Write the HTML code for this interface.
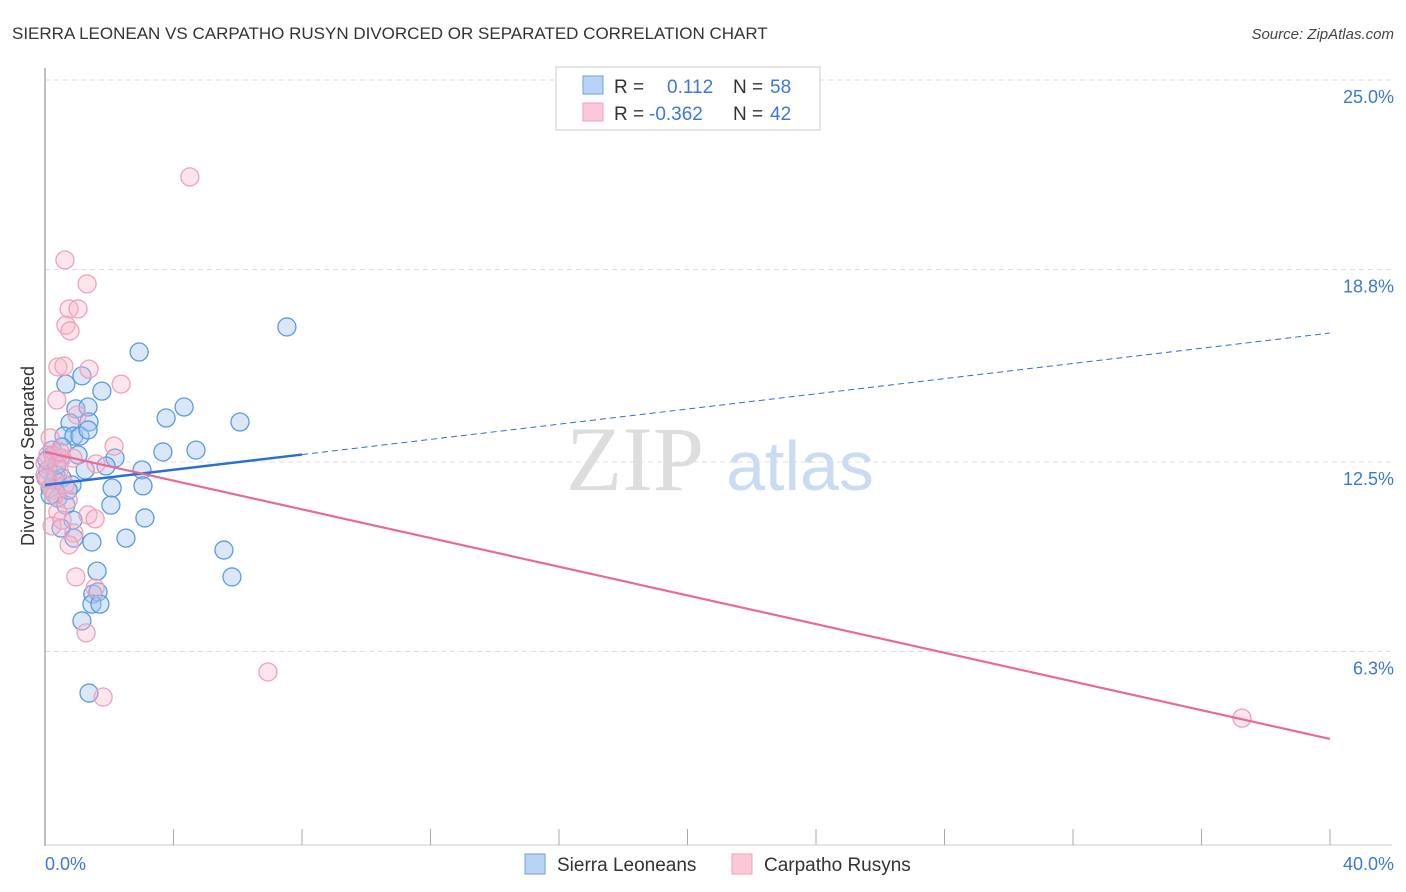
<!DOCTYPE html>
<html><head><meta charset="utf-8"><style>
body{margin:0;background:#fff;font-family:"Liberation Sans",sans-serif;}
svg{display:block}
</style></head><body>
<svg id="chart" width="1406" height="892" xmlns="http://www.w3.org/2000/svg" font-family="Liberation Sans, sans-serif">
<text x="12" y="39" font-size="17" fill="#333">SIERRA LEONEAN VS CARPATHO RUSYN DIVORCED OR SEPARATED CORRELATION CHART</text>
<text x="1394" y="39" font-size="15" fill="#444" font-style="italic" text-anchor="end">Source: ZipAtlas.com</text>
<g>
<text x="635" y="490" font-size="92" fill="#ddd" font-family="Liberation Serif, serif" text-anchor="middle">ZIP</text>
<text x="800" y="490" font-size="70" fill="#c9dcf3" text-anchor="middle">atlas</text>
</g>
<g id="grid"></g>
<line x1="45" y1="68" x2="45" y2="846" stroke="#aaa" stroke-width="1.5"/>
<line x1="45" y1="845" x2="1392" y2="845" stroke="#ccc"/>
<text transform="translate(34,456) rotate(-90)" font-size="18" fill="#333" text-anchor="middle">Divorced or Separated</text>
<text x="45" y="870" font-size="18" fill="#3b78d8">0.0%</text>
<text x="1394" y="870" font-size="18" fill="#3b78d8" text-anchor="end">40.0%</text>
<g id="ticks"></g>
<g id="points"></g>
<g id="trends"></g>
<g>
<rect x="556" y="67" width="264" height="63" fill="#fff" stroke="#ccc"/>
<rect x="583" y="76" width="20" height="18" fill="#b9d3f5" stroke="#6aa0e0"/>
<rect x="583" y="103" width="20" height="18" fill="#fac8d6" stroke="#f0a0b8"/>
<text x="614" y="93" font-size="19" fill="#333">R =</text>
<text x="667" y="93" font-size="19" fill="#3b78d8">0.112</text>
<text x="733" y="93" font-size="19" fill="#333">N =</text>
<text x="770" y="93" font-size="19" fill="#3b78d8">58</text>
<text x="614" y="120" font-size="19" fill="#333">R =</text>
<text x="649" y="120" font-size="19" fill="#3b78d8">-0.362</text>
<text x="733" y="120" font-size="19" fill="#333">N =</text>
<text x="770" y="120" font-size="19" fill="#3b78d8">42</text>
</g>
<g>
<rect x="525" y="854" width="20" height="20" fill="#b9d3f5" stroke="#6aa0e0"/>
<text x="557" y="871" font-size="19" fill="#333">Sierra Leoneans</text>
<rect x="732" y="854" width="20" height="20" fill="#fac8d6" stroke="#f0a0b8"/>
<text x="764" y="871" font-size="19" fill="#333">Carpatho Rusyns</text>
</g>
</svg>
<script>
const yTicks=[25.0,18.8,12.5,6.3];
const yTickLabels=["25.0%","18.8%","12.5%","6.3%"];
const xTicks=[0,4,8,12,16,20,24,28,32,36,40];
const blueX=[7.53,2.93,1.15,0.65,1.77,0.96,1.34,4.33,3.77,6.07,0.78,1.37,0.59,0.90,1.09,1.34,4.70,3.67,0.25,0.47,1.03,2.18,1.90,3.02,0.09,0.34,0.53,0.84,0.16,2.09,3.05,0.40,0.65,2.05,3.11,0.87,0.50,0.90,1.46,2.52,5.57,1.62,5.82,1.49,1.65,1.46,1.71,1.15,1.37,0.06,0.31,0.16,0.22,0.72,1.25,0.37,0.03,0.53];
const blueY=[17.05,16.23,15.45,15.18,14.95,14.37,14.43,14.43,14.07,13.94,13.91,13.94,13.48,13.48,13.48,13.68,13.02,12.96,12.86,12.76,12.86,12.76,12.50,12.37,12.37,12.21,12.11,11.88,11.78,11.78,11.85,11.45,11.22,11.22,10.80,10.73,10.47,10.14,10.01,10.14,9.75,9.06,8.87,8.31,8.38,7.98,7.98,7.43,5.07,12.70,12.04,11.55,13.02,11.71,12.37,12.53,12.11,13.12];
const pinkX=[4.51,0.62,1.31,0.75,1.03,0.65,0.78,0.40,0.59,1.37,2.37,0.37,1.00,0.16,2.15,0.28,0.53,0.87,1.59,0.44,0.09,0.22,0.72,0.40,1.34,1.56,0.22,0.90,0.75,0.96,1.56,1.28,1.81,6.94,37.26,0.09,0.47,0.00,0.31,0.62,0.00,0.53];
const pinkY=[21.96,19.24,18.46,17.64,17.64,17.11,16.92,15.74,15.77,15.67,15.18,14.66,14.17,13.42,13.15,12.83,12.76,12.76,12.57,12.37,12.04,11.71,11.39,10.99,10.90,10.77,10.54,10.31,9.92,8.87,8.51,7.04,4.94,5.76,4.25,12.86,12.96,12.60,11.55,11.88,12.21,10.73];
const blueTrend=[11.88,16.85];
const blueSolidEnd=8.0;
const pinkTrend=[12.96,3.57];

const NS="http://www.w3.org/2000/svg";
const xs=v=>45+v*(1285/40);
const ys=v=>84+(25-v)*30.56;
function mk(tag,attrs,parent){const e=document.createElementNS(NS,tag);for(const k in attrs)e.setAttribute(k,attrs[k]);document.getElementById(parent).appendChild(e);return e;}
yTicks.forEach((t,i)=>{
 const l=mk('line',{x1:45,x2:1392,y1:ys(t)-4,y2:ys(t)-4,stroke:'#ddd','stroke-dasharray':'5,4'},'grid');
 
 
 const tx=mk('text',{x:1394,y:ys(t)+19,'font-size':18,fill:'#3b78d8','text-anchor':'end'},'grid');
 tx.textContent=yTickLabels[i];
 
 
});
xTicks.forEach(t=>{
 const l=mk('line',{x1:xs(t),x2:xs(t),y1:829,y2:845,stroke:'#aaa'},'ticks');
 
 
});
blueX.forEach((x,i)=>{
 const c=mk('circle',{cx:xs(x),cy:ys(blueY[i]),r:9,fill:'rgba(160,196,240,0.4)',stroke:'#5b9be0','stroke-width':1.3},'points');
 
 
});
pinkX.forEach((x,i)=>{
 const c=mk('circle',{cx:xs(x),cy:ys(pinkY[i]),r:9,fill:'rgba(248,180,200,0.35)',stroke:'#f0a0b8','stroke-width':1.3},'points');
 
 
});
const by=x=>blueTrend[0]+(blueTrend[1]-blueTrend[0])*x/40;
const b1=mk('line',{x1:xs(0),y1:ys(by(0)),x2:xs(blueSolidEnd),y2:ys(by(blueSolidEnd)),stroke:'#2b6fd6','stroke-width':2.5},'trends');


const b2=mk('line',{x1:xs(blueSolidEnd),y1:ys(by(blueSolidEnd)),x2:xs(40),y2:ys(by(40)),stroke:'#2b6fd6','stroke-width':1,'stroke-dasharray':'6,4'},'trends');


const p1=mk('line',{x1:xs(0),y1:ys(pinkTrend[0]),x2:xs(40),y2:ys(pinkTrend[1]),stroke:'#e8699a','stroke-width':2.2},'trends');


</script>
</body></html>
